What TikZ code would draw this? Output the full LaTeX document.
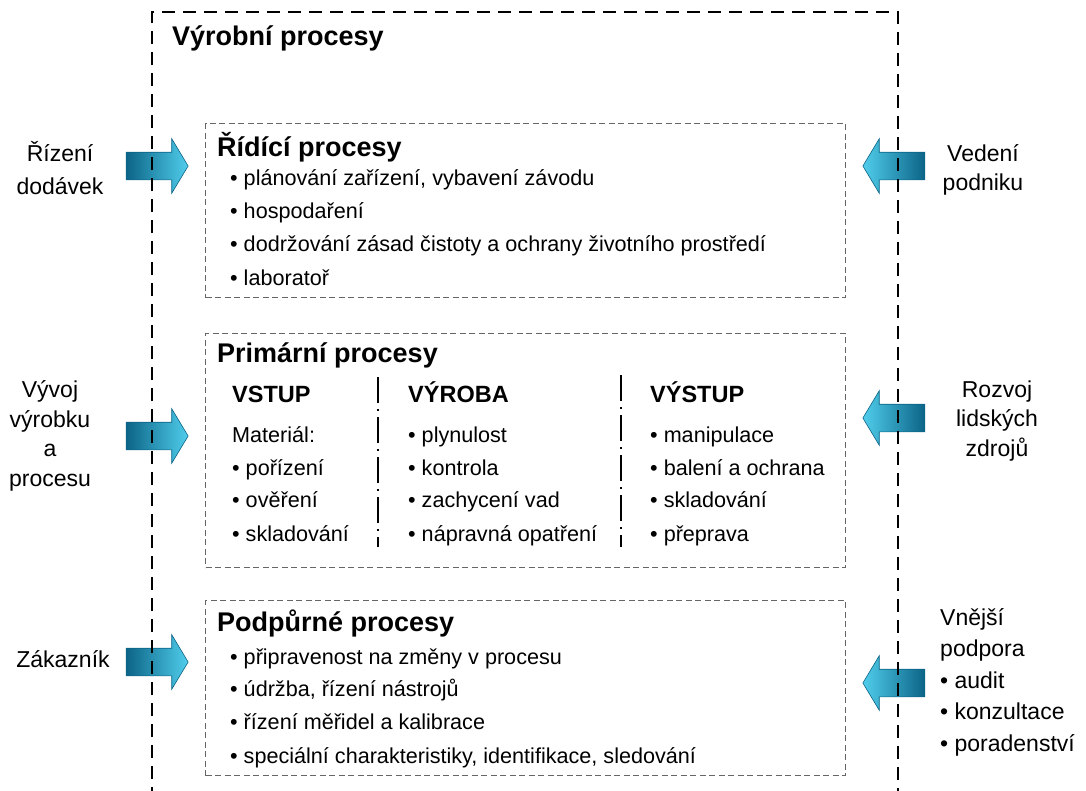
\documentclass[tikz,border=0pt]{standalone}
\usepackage{fontspec}
\setmainfont{Liberation Sans}
\usetikzlibrary{shapes.arrows}
\definecolor{arrowdark}{RGB}{12,100,135}
\definecolor{arrowlight}{RGB}{80,205,235}

\begin{document}
\begin{tikzpicture}[
    x=1pt, y=-1pt,
    every node/.style={inner sep=0pt, anchor=base west},
    frame/.style={line width=2pt, dash pattern=on 13pt off 8pt},
    procbox/.style={draw=black!60, line width=1.1pt, dash pattern=on 6pt off 3.5pt, minimum width=640pt, anchor=north west},
    divider/.style={line width=2pt, dash pattern=on 26pt off 6pt on 2pt off 6pt},
    title/.style={font=\fontsize{27}{32}\selectfont\bfseries},
    colhead/.style={font=\fontsize{23.5}{28}\selectfont\bfseries},
    item/.style={font=\fontsize{21.6}{26}\selectfont},
    outer/.style={font=\fontsize{23}{29.5}\selectfont, align=center, anchor=center},
    blockR/.style={single arrow, inner xsep=0pt, inner ysep=13.5pt, minimum height=62pt, single arrow head extend=13.5pt, single arrow tip angle=118, draw=arrowdark, line width=0.6pt, left color=arrowdark, right color=arrowlight, anchor=center},
    blockL/.style={blockR, shape border rotate=180, left color=arrowlight, right color=arrowdark}
]
   \useasboundingbox (0,0) rectangle (1086,790);

   % Process boxes
   \node[procbox, minimum height=174pt] (ridici) at (205,123) {};
   \node[procbox, minimum height=234pt] (primarni) at (205,333) {};
   \node[procbox, minimum height=175pt] (podpurne) at (205,600) {};

   % Block arrows
   \node[blockR] (arrDodavky) at (153,166) {};
   \node[blockR] (arrVyvoj) at (153,436) {};
   \node[blockR] (arrZakaznik) at (153,662) {};
   \node[blockL] (arrVedeni) at (898,166) {};
   \node[blockL] (arrRozvoj) at (898,418) {};
   \node[blockL] (arrPodpora) at (898,683) {};

   % Outer frame, drawn over the arrows
   \draw[frame] (152,800) -- (152,12) -- (898,12) -- (898,800);
   \node[title] (vyrobni) at (172,45) {Výrobní procesy};

   % Řídící procesy
   \node[title] (ridiciT) at (217,156) {Řídící procesy};
   \node[item] (r1) at (230,185) {• plánování zařízení, vybavení závodu};
   \node[item] (r2) at (230,218) {• hospodaření};
   \node[item] (r3) at (230,251) {• dodržování zásad čistoty a ochrany životního prostředí};
   \node[item] (r4) at (230,285) {• laboratoř};

   % Primární procesy
   \node[title] (primarniT) at (217,362) {Primární procesy};
   \node[colhead] (vstup) at (232,402) {VSTUP};
   \node[colhead] (vyroba) at (408,402) {VÝROBA};
   \node[colhead] (vystup) at (650,402) {VÝSTUP};
   \draw[divider] (378,377) -- (378,547);
   \draw[divider] (621,375) -- (621,547);

   \node[item] (p1) at (232,442) {Materiál:};
   \node[item] (p2) at (232,475) {• pořízení};
   \node[item] (p3) at (232,507) {• ověření};
   \node[item] (p4) at (232,541) {• skladování};

   \node[item] (v1) at (408,442) {• plynulost};
   \node[item] (v2) at (408,475) {• kontrola};
   \node[item] (v3) at (408,507) {• zachycení vad};
   \node[item] (v4) at (408,541) {• nápravná opatření};

   \node[item] (s1) at (650,442) {• manipulace};
   \node[item] (s2) at (650,475) {• balení a ochrana};
   \node[item] (s3) at (650,507) {• skladování};
   \node[item] (s4) at (650,541) {• přeprava};

   % Podpůrné procesy
   \node[title] (podpurneT) at (217,631) {Podpůrné procesy};
   \node[item] (d1) at (230,664) {• připravenost na změny v procesu};
   \node[item] (d2) at (230,696) {• údržba, řízení nástrojů};
   \node[item] (d3) at (230,729) {• řízení měřidel a kalibrace};
   \node[item] (d4) at (230,763) {• speciální charakteristiky, identifikace, sledování};

   % Outer inputs
   \node[outer, font=\fontsize{23}{33}\selectfont] (dodavky) at (60,168) {Řízení\\dodávek};
   \node[outer] (vyvoj) at (50,436) {Vývoj\\výrobku\\a\\procesu};
   \node[outer] (zakaznik) at (63,659) {Zákazník};
   \node[outer] (vedeni) at (983,170) {Vedení\\podniku};
   \node[outer] (rozvoj) at (997,421) {Rozvoj\\lidských\\zdrojů};
   \node[outer, align=left, anchor=west, font=\fontsize{23}{31.5}\selectfont] (podpora) at (940,682) {Vnější\\podpora\\• audit\\• konzultace\\• poradenství};
\end{tikzpicture}
\end{document}
